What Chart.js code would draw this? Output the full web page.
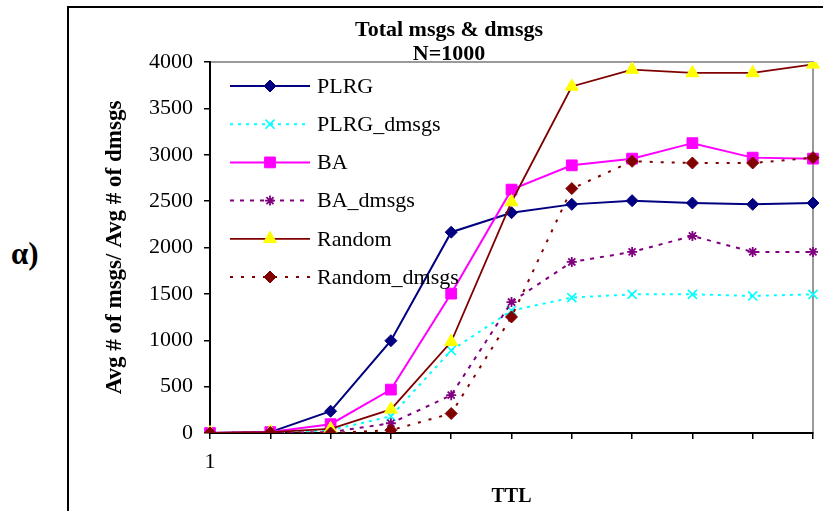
<!DOCTYPE html>
<html><head><meta charset="utf-8">
<script src="https://cdn.jsdelivr.net/npm/chart.js@4.4.1/dist/chart.umd.min.js"></script>
<style>
html,body{margin:0;padding:0;background:#fff;overflow:hidden;width:823px;height:511px;}
#wrap{position:relative;width:823px;height:511px;}
#frame{position:absolute;left:67px;top:6px;width:900px;height:700px;border-left:2px solid #000;border-top:2px solid #000;}
#tag{position:absolute;left:11px;top:234px;font:bold 31px "Liberation Serif","DejaVu Serif",serif;line-height:40px;color:#000;}
canvas{position:absolute;left:0;top:0;}
</style></head><body>
<div id="wrap"><div id="frame"></div><div id="tag">α)</div><canvas id="c" width="823" height="511"></canvas></div>
<script>
// ---- data ----
const ttlValues = [1, 2, 3, 4, 5, 6, 7, 8, 9, 10, 11];
const xTickLabels = ['1', '', '', '', '', '', '', '', '', '', ''];
const seriesNames = ['PLRG', 'PLRG_dmsgs', 'BA', 'BA_dmsgs', 'Random', 'Random_dmsgs'];
const plrg        = [0, 10, 235, 995, 2165, 2375, 2465, 2505, 2480, 2465, 2480];
const plrgDmsgs   = [0, 0, 30, 180, 890, 1320, 1460, 1495, 1495, 1478, 1495];
const ba          = [0, 10, 95, 468, 1503, 2624, 2886, 2958, 3125, 2969, 2958];
const baDmsgs     = [0, 0, 10, 105, 408, 1412, 1844, 1952, 2124, 1952, 1952];
const random      = [0, 10, 45, 255, 984, 2491, 3736, 3918, 3882, 3882, 3975];
const randomDmsgs = [0, 5, 0, 30, 210, 1251, 2635, 2929, 2911, 2911, 2969];
const yMin = 0, yMax = 4000, yStep = 500;
const chartTitle = ['Total msgs & dmsgs', 'N=1000'];
const yTitle = 'Avg # of msgs/ Avg # of dmsgs';
const xTitle = 'TTL';

// ---- styles ----
const SERIF = '"Liberation Serif", "Times New Roman", serif';
const styles = [
  {line: '#000080', dash: [], width: 2, ps: 'rectRot', r: 6, fill: '#000080', stroke: '#000080', bw: 1},
  {line: '#00FFFF', dash: [3, 5], width: 2, ps: 'crossRot', r: 6.4, fill: '#00FFFF', stroke: '#00FFFF', bw: 1.6},
  {line: '#FF00FF', dash: [], width: 2, ps: 'rect', r: 7.6, fill: '#FF00FF', stroke: '#FF00FF', bw: 1},
  {line: '#800080', dash: [4, 6], width: 2, ps: 'star', r: 5, fill: '#800080', stroke: '#800080', bw: 1.8},
  {line: '#800000', dash: [], width: 1.8, ps: 'triangle', r: 7.5, fill: '#FFFF00', stroke: '#FFFF00', bw: 1},
  {line: '#800000', dash: [3, 8], width: 2, ps: 'rectRot', r: 6, fill: '#800000', stroke: '#800000', bw: 1}
];
const seriesData = [plrg, plrgDmsgs, ba, baDmsgs, random, randomDmsgs];

const datasets = seriesNames.map((name, i) => ({
  label: name,
  data: seriesData[i],
  borderColor: styles[i].line,
  borderWidth: styles[i].width,
  borderDash: styles[i].dash,
  pointStyle: styles[i].ps,
  pointRadius: styles[i].r,
  pointBackgroundColor: styles[i].fill,
  pointBorderColor: styles[i].stroke,
  pointBorderWidth: styles[i].bw,
  tension: 0,
  fill: false,
  order: seriesNames.length - i
}));

function drawMarker(ctx, s, x, y) {
  const r = s.r;
  ctx.save();
  ctx.setLineDash([]);
  ctx.fillStyle = s.fill; ctx.strokeStyle = s.stroke; ctx.lineWidth = s.bw;
  ctx.beginPath();
  if (s.ps === 'rectRot') {
    ctx.moveTo(x, y - r); ctx.lineTo(x + r, y); ctx.lineTo(x, y + r); ctx.lineTo(x - r, y); ctx.closePath();
    ctx.fill(); ctx.stroke();
  } else if (s.ps === 'rect') {
    const h = r * Math.SQRT1_2; ctx.rect(x - h, y - h, 2 * h, 2 * h); ctx.fill(); ctx.stroke();
  } else if (s.ps === 'triangle') {
    ctx.moveTo(x, y - r); ctx.lineTo(x + 0.866 * r, y + 0.5 * r); ctx.lineTo(x - 0.866 * r, y + 0.5 * r); ctx.closePath();
    ctx.fill(); ctx.stroke();
  } else {
    const d = r * Math.SQRT1_2;
    ctx.moveTo(x - d, y - d); ctx.lineTo(x + d, y + d);
    ctx.moveTo(x - d, y + d); ctx.lineTo(x + d, y - d);
    if (s.ps === 'star') { ctx.moveTo(x - r, y); ctx.lineTo(x + r, y); ctx.moveTo(x, y - r); ctx.lineTo(x, y + r); }
    ctx.stroke();
  }
  ctx.restore();
}

const plotFrame = {
  id: 'plotFrame',
  beforeDraw(chart) {
    const {ctx, chartArea: a} = chart;
    ctx.save();
    ctx.strokeStyle = '#9a9a9a'; ctx.lineWidth = 2;
    ctx.strokeRect(a.left, a.top, a.right - a.left, a.bottom - a.top);
    ctx.restore();
  }
};

const innerLegend = {
  id: 'innerLegend',
  afterDatasetsDraw(chart) {
    const {ctx, chartArea: a} = chart;
    const x0 = a.left + 20, x1 = a.left + 100, xm = a.left + 60, xt = a.left + 107;
    const yStart = a.top + 24, yGap = 38.2;
    chart.data.datasets.forEach((ds, i) => {
      const s = styles[i];
      const y = yStart + i * yGap;
      ctx.save();
      ctx.strokeStyle = s.line; ctx.lineWidth = s.width; ctx.setLineDash(s.dash);
      ctx.beginPath(); ctx.moveTo(x0, y); ctx.lineTo(x1, y); ctx.stroke();
      ctx.restore();
      drawMarker(ctx, s, xm, y);
      ctx.save();
      ctx.fillStyle = '#000'; ctx.font = '22px ' + SERIF; ctx.textBaseline = 'middle'; ctx.textAlign = 'left';
      ctx.fillText(ds.label, xt, y + 1);
      ctx.restore();
    });
  }
};

new Chart(document.getElementById('c'), {
  type: 'line',
  data: {labels: ttlValues.map(String), datasets},
  plugins: [plotFrame, innerLegend],
  options: {
    responsive: false,
    animation: false,
    events: [],
    layout: {padding: {left: 81, right: 6, top: 8, bottom: 4}},
    plugins: {
      legend: {display: false},
      tooltip: {enabled: false},
      title: {
        display: true, text: chartTitle, color: '#000',
        font: {family: SERIF, size: 22, weight: 'bold', lineHeight: '24px'},
        padding: {top: 10, bottom: -4}
      }
    },
    scales: {
      x: {
        type: 'category', offset: false,
        afterFit(scale) { scale.height = 74; },
        grid: {display: true, drawOnChartArea: false, drawTicks: true, tickLength: 6, color: '#000', lineWidth: 1.5},
        border: {display: true, color: '#000', width: 2},
        ticks: {
          autoSkip: false, maxRotation: 0, padding: 10, color: '#000',
          font: {family: SERIF, size: 22},
          callback: (v, i) => xTickLabels[i]
        },
        title: {display: true, text: xTitle, color: '#000', font: {family: SERIF, size: 20, weight: 'bold'}, padding: {top: 0, bottom: -2}}
      },
      y: {
        min: yMin, max: yMax,
        afterFit(scale) { scale.width = 129; },
        grid: {display: true, drawOnChartArea: false, drawTicks: true, tickLength: 6, color: '#000', lineWidth: 1.5},
        border: {display: true, color: '#000', width: 2},
        ticks: {stepSize: yStep, padding: 11, color: '#000', font: {family: SERIF, size: 22}, callback: v => String(v)},
        title: {display: true, text: yTitle, color: '#000', font: {family: SERIF, size: 23, weight: 'bold'}, padding: {top: 20, bottom: 0}}
      }
    }
  }
});
</script>
</body></html>
